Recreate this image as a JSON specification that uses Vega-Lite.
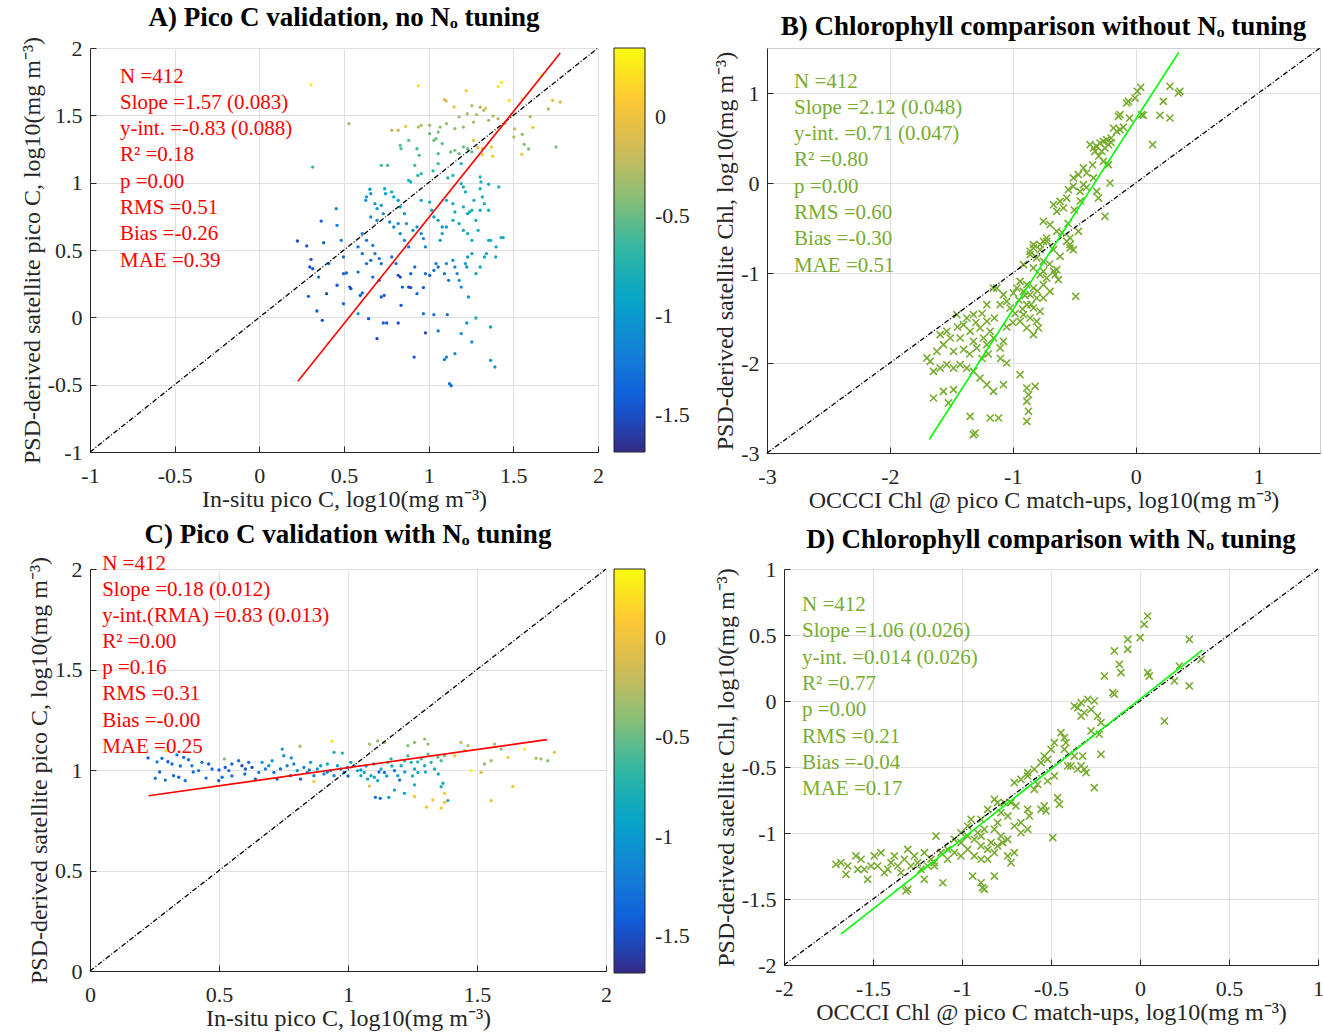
{
"$schema":"https://vega.github.io/schema/vega-lite/v6.json",
"padding":{"top":3,"left":19,"right":0,"bottom":0},
"background":"white",
"resolve":{"scale":{"color":"independent"},"legend":{"color":"independent"}},
"config":{
 "font":"Liberation Serif",
 "view":{"stroke":"#cfcfcf"},
 "axis":{"labelFont":"Liberation Serif","labelFontSize":22,"labelColor":"#262626","titleFont":"Liberation Serif","titleFontSize":24,"titleFontWeight":"normal","titleColor":"#262626","gridColor":"#e0e0e0","domainColor":"#262626","tickColor":"#262626","tickSize":-6,"labelFlush":false,"labelOverlap":false},
 "axisX":{"labelPadding":19,"titlePadding":1},
 "axisY":{"labelPadding":14,"titlePadding":3},
 "title":{"font":"Liberation Serif","fontSize":27,"fontWeight":"bold","color":"black","offset":4},
 "legend":{"gradientVerticalMaxLength":600}
},
"datasets":{
"A":[
{"x":0.305,"y":1.728,"c":0.25},{"x":0.939,"y":1.72,"c":0.2},{"x":1.222,"y":1.683,"c":0.1},{"x":1.411,"y":1.713,"c":0.22},{"x":1.431,"y":1.745,"c":0.25},{"x":1.665,"y":1.797,"c":0.3},
{"x":1.093,"y":1.616,"c":-0.1},{"x":1.103,"y":1.606,"c":-0.12},{"x":1.15,"y":1.562,"c":0.0},{"x":1.255,"y":1.572,"c":-0.25},{"x":1.305,"y":1.56,"c":-0.25},{"x":1.325,"y":1.537,"c":-0.3},{"x":1.337,"y":1.554,"c":0.0},{"x":1.476,"y":1.611,"c":0.2},{"x":1.553,"y":1.621,"c":0.05},{"x":1.732,"y":1.611,"c":-0.05},{"x":1.777,"y":1.599,"c":-0.1},{"x":1.707,"y":1.547,"c":-0.3},{"x":1.752,"y":1.265,"c":-0.45},{"x":1.615,"y":1.411,"c":0.05},{"x":1.6,"y":1.49,"c":-0.3},{"x":1.553,"y":1.359,"c":-0.35},{"x":1.508,"y":1.399,"c":-0.2},{"x":1.503,"y":1.339,"c":-0.3},{"x":1.565,"y":1.285,"c":-0.45},{"x":1.59,"y":1.25,"c":-0.45},{"x":1.55,"y":1.21,"c":0.0},{"x":1.45,"y":1.44,"c":-0.3},{"x":1.41,"y":1.475,"c":-0.25},{"x":1.38,"y":1.495,"c":-0.3},{"x":1.354,"y":1.463,"c":-0.35},{"x":1.283,"y":1.505,"c":-0.3},{"x":1.265,"y":1.45,"c":-0.35},{"x":1.228,"y":1.512,"c":-0.3},{"x":1.18,"y":1.488,"c":-0.35},{"x":1.205,"y":1.413,"c":-0.4},{"x":1.155,"y":1.401,"c":-0.4},{"x":1.105,"y":1.438,"c":-0.35},{"x":1.068,"y":1.413,"c":-0.4},{"x":1.056,"y":1.376,"c":-0.45},{"x":1.006,"y":1.426,"c":-0.35},{"x":0.956,"y":1.426,"c":-0.3},{"x":0.939,"y":1.413,"c":-0.3},{"x":0.864,"y":1.418,"c":0.05},{"x":0.82,"y":1.389,"c":-0.15},{"x":0.782,"y":1.389,"c":-0.2},{"x":0.529,"y":1.438,"c":-0.35},{"x":0.315,"y":1.116,"c":-0.65},
{"x":1.006,"y":1.364,"c":-0.5},{"x":1.043,"y":1.327,"c":-0.5},{"x":1.08,"y":1.29,"c":-0.55},{"x":1.13,"y":1.228,"c":-0.5},{"x":1.155,"y":1.24,"c":-0.45},{"x":1.18,"y":1.215,"c":-0.5},{"x":1.205,"y":1.265,"c":-0.45},{"x":1.23,"y":1.252,"c":-0.5},{"x":1.255,"y":1.228,"c":-0.55},{"x":1.265,"y":1.314,"c":0.0},{"x":1.317,"y":1.252,"c":0.05},{"x":1.317,"y":1.21,"c":0.05},{"x":1.371,"y":1.265,"c":0.05},{"x":1.378,"y":1.196,"c":0.05},{"x":1.29,"y":1.26,"c":-0.05},
{"x":0.931,"y":1.252,"c":-0.6},{"x":0.944,"y":1.203,"c":-0.6},{"x":0.832,"y":1.277,"c":-0.55},{"x":0.837,"y":1.252,"c":-0.55},{"x":0.882,"y":1.314,"c":-0.5},{"x":0.918,"y":1.129,"c":-0.65},{"x":1.056,"y":1.215,"c":-0.6},{"x":1.056,"y":1.141,"c":-0.65},{"x":1.031,"y":1.314,"c":-0.5},{"x":0.956,"y":1.067,"c":-0.7},{"x":0.936,"y":1.054,"c":-0.7},{"x":1.026,"y":1.087,"c":-0.7},{"x":0.894,"y":1.005,"c":-0.75},{"x":0.882,"y":1.017,"c":-0.75},{"x":1.113,"y":1.035,"c":-0.75},{"x":1.143,"y":1.054,"c":-0.7},{"x":0.72,"y":1.129,"c":-0.65},{"x":0.757,"y":1.129,"c":-0.65},{"x":1.192,"y":1.141,"c":-0.7},{"x":1.304,"y":1.042,"c":-0.75},{"x":1.309,"y":1.005,"c":-0.75},{"x":1.354,"y":0.988,"c":-0.8},{"x":1.192,"y":0.993,"c":-0.8},{"x":1.205,"y":0.968,"c":-0.8},{"x":1.217,"y":0.931,"c":-0.8},{"x":1.304,"y":0.955,"c":-0.8},{"x":1.317,"y":0.894,"c":-0.85},{"x":1.414,"y":0.968,"c":-0.8},
{"x":0.653,"y":0.951,"c":-0.95},{"x":0.658,"y":0.918,"c":-1.0},{"x":0.633,"y":0.894,"c":-1.0},{"x":0.628,"y":0.869,"c":-1.05},{"x":0.74,"y":0.955,"c":-0.9},{"x":0.745,"y":0.918,"c":-0.95},{"x":0.782,"y":0.931,"c":-0.9},{"x":0.794,"y":0.894,"c":-0.95},{"x":0.82,"y":0.869,"c":-0.95},{"x":0.832,"y":0.82,"c":-1.0},{"x":0.683,"y":0.844,"c":-1.05},{"x":0.695,"y":0.807,"c":-1.05},{"x":0.72,"y":0.832,"c":-1.05},{"x":0.658,"y":0.745,"c":-1.1},{"x":0.695,"y":0.72,"c":-1.15},{"x":0.732,"y":0.77,"c":-1.1},{"x":0.77,"y":0.708,"c":-1.1},{"x":0.794,"y":0.671,"c":-1.15},{"x":0.82,"y":0.696,"c":-1.1},{"x":0.857,"y":0.77,"c":-1.0},{"x":0.869,"y":0.696,"c":-1.05},{"x":0.907,"y":0.646,"c":-1.1},{"x":0.931,"y":0.671,"c":-1.05},{"x":0.956,"y":0.869,"c":-0.9},{"x":1.006,"y":0.856,"c":-0.85},{"x":1.018,"y":0.795,"c":-0.9},{"x":1.031,"y":0.745,"c":-0.95},{"x":1.056,"y":0.72,"c":-0.95},{"x":1.08,"y":0.671,"c":-1.0},{"x":1.105,"y":0.869,"c":-0.85},{"x":1.143,"y":0.844,"c":-0.85},{"x":1.155,"y":0.782,"c":-0.85},{"x":1.205,"y":0.82,"c":-0.8},{"x":1.23,"y":0.77,"c":-0.85},{"x":1.242,"y":0.782,"c":-0.85},{"x":1.255,"y":0.795,"c":-0.8},{"x":1.267,"y":0.869,"c":-0.8},{"x":1.279,"y":0.72,"c":-0.85},{"x":1.304,"y":0.795,"c":-0.8},{"x":1.329,"y":0.844,"c":-0.8},{"x":1.354,"y":0.795,"c":-0.85},{"x":1.143,"y":0.72,"c":-0.9},{"x":1.18,"y":0.696,"c":-0.9},{"x":1.205,"y":0.646,"c":-0.95},{"x":1.23,"y":0.622,"c":-0.9},{"x":1.105,"y":0.671,"c":-0.95},{"x":1.08,"y":0.622,"c":-1.0},{"x":1.068,"y":0.572,"c":-1.05},{"x":1.255,"y":0.572,"c":-0.9},{"x":1.292,"y":0.646,"c":-0.85},{"x":1.354,"y":0.572,"c":-0.85},{"x":1.428,"y":0.592,"c":-0.85},{"x":0.956,"y":0.622,"c":-1.1},{"x":0.969,"y":0.585,"c":-1.1},{"x":0.981,"y":0.523,"c":-1.15},{"x":0.832,"y":0.622,"c":-1.15},{"x":0.857,"y":0.572,"c":-1.2},{"x":0.882,"y":0.523,"c":-1.2},{"x":0.608,"y":0.622,"c":-1.2},{"x":0.633,"y":0.572,"c":-1.25},{"x":0.67,"y":0.535,"c":-1.25},{"x":0.583,"y":0.523,"c":-1.3},{"x":0.608,"y":0.473,"c":-1.3},{"x":0.484,"y":0.572,"c":-1.2},{"x":0.497,"y":0.448,"c":-1.3},{"x":0.454,"y":0.807,"c":-1.15},{"x":0.459,"y":0.683,"c":-1.2},{"x":0.365,"y":0.715,"c":-1.45},{"x":0.38,"y":0.554,"c":-1.4},{"x":0.225,"y":0.567,"c":-1.5},{"x":0.28,"y":0.53,"c":-1.45},{"x":0.305,"y":0.431,"c":-1.45},{"x":0.298,"y":0.374,"c":-1.5},{"x":0.315,"y":0.361,"c":-1.45},{"x":0.35,"y":0.299,"c":-1.3},{"x":0.41,"y":0.399,"c":-1.35},{"x":0.29,"y":0.156,"c":-1.35},{"x":0.34,"y":0.047,"c":-1.45},{"x":0.372,"y":-0.022,"c":-1.5},{"x":0.397,"y":0.176,"c":-1.5},{"x":0.459,"y":0.238,"c":-1.45},{"x":0.497,"y":0.324,"c":-1.35},{"x":0.514,"y":0.329,"c":-1.35},{"x":0.497,"y":0.101,"c":-1.35},{"x":0.534,"y":0.225,"c":-1.5},{"x":0.541,"y":0.213,"c":-1.5},{"x":0.583,"y":0.336,"c":-1.3},{"x":0.596,"y":0.163,"c":-1.45},{"x":0.608,"y":0.181,"c":-1.4},{"x":0.583,"y":0.027,"c":-0.95},{"x":0.633,"y":0.399,"c":-1.3},{"x":0.658,"y":0.423,"c":-1.35},{"x":0.645,"y":-0.01,"c":-1.45},{"x":0.683,"y":0.473,"c":-1.25},{"x":0.708,"y":0.436,"c":-1.3},{"x":0.72,"y":0.399,"c":-1.35},{"x":0.67,"y":0.299,"c":-1.35},{"x":0.708,"y":0.275,"c":-1.4},{"x":0.72,"y":0.151,"c":-1.45},{"x":0.737,"y":0.163,"c":-1.45},{"x":0.695,"y":-0.158,"c":-1.55},{"x":0.732,"y":-0.042,"c":-1.4},{"x":0.752,"y":-0.042,"c":-1.45},{"x":0.782,"y":0.448,"c":-1.3},{"x":0.807,"y":0.399,"c":-1.35},{"x":0.82,"y":0.312,"c":-1.5},{"x":0.832,"y":0.299,"c":-1.55},{"x":0.845,"y":0.225,"c":-1.4},{"x":0.82,"y":-0.042,"c":-1.5},{"x":0.837,"y":0.089,"c":-1.45},{"x":0.894,"y":0.324,"c":-1.35},{"x":0.918,"y":0.374,"c":-1.3},{"x":0.882,"y":0.225,"c":-1.5},{"x":0.894,"y":0.221,"c":-1.5},{"x":0.931,"y":0.176,"c":-1.4},{"x":0.969,"y":0.221,"c":-1.45},{"x":0.981,"y":0.324,"c":-1.35},{"x":1.006,"y":0.312,"c":-1.45},{"x":1.031,"y":0.349,"c":-1.3},{"x":1.043,"y":0.399,"c":-1.25},{"x":1.056,"y":0.374,"c":-1.3},{"x":0.969,"y":0.027,"c":-1.3},{"x":0.981,"y":-0.116,"c":-1.55},{"x":0.914,"y":-0.295,"c":-1.45},{"x":1.031,"y":0.02,"c":-1.3},{"x":1.056,"y":-0.101,"c":-1.3},{"x":1.093,"y":0.324,"c":-1.2},{"x":1.105,"y":0.399,"c":-1.15},{"x":1.11,"y":0.02,"c":-1.3},{"x":1.118,"y":0.275,"c":-1.2},{"x":1.155,"y":0.374,"c":-1.1},{"x":1.168,"y":0.324,"c":-1.15},{"x":1.143,"y":0.423,"c":-1.1},{"x":1.18,"y":0.275,"c":-1.1},{"x":1.192,"y":0.225,"c":-1.15},{"x":1.23,"y":0.448,"c":-0.95},{"x":1.255,"y":0.473,"c":-0.95},{"x":1.217,"y":0.399,"c":-1.0},{"x":1.225,"y":0.374,"c":-1.05},{"x":1.235,"y":0.151,"c":-1.05},{"x":1.105,"y":-0.295,"c":-1.2},{"x":1.093,"y":-0.314,"c":-1.25},{"x":1.155,"y":-0.27,"c":-1.1},{"x":1.123,"y":-0.493,"c":-1.3},{"x":1.133,"y":-0.508,"c":-1.3},{"x":1.192,"y":-0.121,"c":-1.1},{"x":1.225,"y":-0.042,"c":-1.05},{"x":1.255,"y":-0.183,"c":-1.05},{"x":1.279,"y":-0.005,"c":-0.85},{"x":1.279,"y":0.324,"c":-0.95},{"x":1.304,"y":0.374,"c":-0.9},{"x":1.329,"y":0.448,"c":-0.9},{"x":1.341,"y":0.473,"c":-0.9},{"x":1.366,"y":-0.072,"c":-0.95},{"x":1.366,"y":-0.319,"c":-1.05},{"x":1.391,"y":-0.369,"c":-1.05},{"x":1.396,"y":0.448,"c":-0.85},{"x":1.398,"y":0.523,"c":-0.85},{"x":1.366,"y":0.572,"c":-0.85},{"x":1.44,"y":0.592,"c":-0.85}
],
"A11":[{"x":-1,"y":-1},{"x":2,"y":2}],
"Afit":[{"x":0.228,"y":-0.475},{"x":1.777,"y":1.963}],
"C":[
{"x":0.225,"y":1.06,"c":-1.45},{"x":0.253,"y":0.959,"c":-1.2},{"x":0.279,"y":1.058,"c":-1.35},{"x":0.302,"y":1.041,"c":-1.45},{"x":0.318,"y":1.03,"c":-1.3},{"x":0.292,"y":0.95,"c":-1.3},{"x":0.324,"y":0.972,"c":-1.35},{"x":0.344,"y":0.964,"c":-1.4},{"x":0.369,"y":0.947,"c":-1.3},{"x":0.337,"y":1.075,"c":-1.3},{"x":0.363,"y":1.063,"c":-1.35},{"x":0.382,"y":1.051,"c":-1.3},{"x":0.395,"y":1.021,"c":-1.2},{"x":0.421,"y":0.997,"c":-1.3},{"x":0.434,"y":1.038,"c":-1.3},{"x":0.46,"y":1.03,"c":-1.45},{"x":0.473,"y":1.005,"c":-1.4},{"x":0.499,"y":0.947,"c":-1.45},{"x":0.512,"y":0.964,"c":-1.3},{"x":0.524,"y":1.013,"c":-1.45},{"x":0.538,"y":0.997,"c":-1.3},{"x":0.55,"y":1.03,"c":-1.35},{"x":0.576,"y":1.046,"c":-1.3},{"x":0.589,"y":1.021,"c":-1.55},{"x":0.602,"y":1.005,"c":-1.5},{"x":0.615,"y":1.038,"c":-1.4},{"x":0.628,"y":1.013,"c":-1.5},{"x":0.641,"y":0.955,"c":-1.45},{"x":0.654,"y":0.988,"c":-1.2},{"x":0.667,"y":1.038,"c":-1.0},{"x":0.68,"y":1.005,"c":-1.25},{"x":0.693,"y":1.021,"c":-1.1},{"x":0.706,"y":1.046,"c":-1.0},{"x":0.713,"y":0.988,"c":-1.35},{"x":0.725,"y":0.955,"c":-1.45},{"x":0.738,"y":1.005,"c":-1.3},{"x":0.745,"y":1.104,"c":-1.0},{"x":0.751,"y":1.071,"c":-1.05},{"x":0.764,"y":1.021,"c":-1.2},{"x":0.777,"y":0.972,"c":-1.3},{"x":0.79,"y":1.03,"c":-1.1},{"x":0.803,"y":0.997,"c":-1.15},{"x":0.816,"y":0.955,"c":-1.45},{"x":0.829,"y":1.013,"c":-1.2},{"x":0.842,"y":0.988,"c":-1.1},{"x":0.855,"y":1.038,"c":-1.0},{"x":0.868,"y":0.972,"c":-1.2},{"x":0.881,"y":1.005,"c":-1.0},{"x":0.894,"y":1.021,"c":-1.05},{"x":0.907,"y":0.98,"c":-1.1},{"x":0.92,"y":1.03,"c":-0.9},{"x":0.933,"y":0.997,"c":-1.0},{"x":0.946,"y":0.972,"c":-1.2},{"x":0.959,"y":1.021,"c":-0.95},{"x":0.972,"y":1.005,"c":-1.1},{"x":0.985,"y":0.988,"c":-1.15},{"x":0.946,"y":1.088,"c":-0.8},{"x":0.978,"y":1.084,"c":-0.75},{"x":0.998,"y":1.013,"c":-1.2},{"x":1.011,"y":1.038,"c":-1.0},{"x":1.024,"y":1.021,"c":-0.9},{"x":1.037,"y":0.997,"c":-0.85},{"x":1.05,"y":0.972,"c":-0.9},{"x":1.063,"y":0.988,"c":-0.85},{"x":1.076,"y":0.955,"c":-0.95},{"x":1.089,"y":0.972,"c":-0.85},{"x":1.102,"y":0.964,"c":-0.9},{"x":1.115,"y":0.947,"c":-0.85},{"x":1.128,"y":1.005,"c":-0.8},{"x":1.141,"y":0.988,"c":-1.3},{"x":1.154,"y":1.038,"c":-0.8},{"x":1.167,"y":1.055,"c":-0.75},{"x":1.18,"y":0.997,"c":-1.3},{"x":1.193,"y":0.972,"c":-0.9},{"x":1.206,"y":1.021,"c":-0.85},{"x":1.219,"y":1.046,"c":-0.7},{"x":1.232,"y":1.071,"c":-0.6},{"x":1.245,"y":1.038,"c":-0.75},{"x":1.258,"y":1.005,"c":-0.85},{"x":1.271,"y":0.988,"c":-0.9},{"x":1.284,"y":1.055,"c":-0.6},{"x":1.297,"y":1.021,"c":-0.8},{"x":1.31,"y":1.079,"c":-0.55},{"x":1.322,"y":1.038,"c":-0.7},{"x":1.335,"y":1.005,"c":-0.85},{"x":1.348,"y":1.063,"c":-0.5},{"x":1.361,"y":1.046,"c":-0.6},{"x":1.374,"y":1.071,"c":-0.45},{"x":1.106,"y":0.864,"c":-1.3},{"x":1.125,"y":0.859,"c":-1.35},{"x":1.158,"y":0.864,"c":-1.0},{"x":1.18,"y":0.9,"c":-1.0},{"x":1.219,"y":0.884,"c":-0.9},{"x":1.258,"y":0.868,"c":0.05},{"x":1.304,"y":0.815,"c":0.05},{"x":1.329,"y":0.851,"c":0.0},{"x":1.361,"y":0.811,"c":0.05},{"x":1.374,"y":0.839,"c":0.0},{"x":1.387,"y":0.848,"c":-0.85},{"x":1.361,"y":0.917,"c":-0.8},{"x":1.368,"y":0.934,"c":-0.8},{"x":1.297,"y":1.154,"c":-0.35},{"x":1.31,"y":1.129,"c":-0.4},{"x":1.258,"y":1.137,"c":-0.4},{"x":1.232,"y":1.121,"c":-0.45},{"x":1.141,"y":1.137,"c":-0.3},{"x":1.115,"y":1.145,"c":-0.4},{"x":1.083,"y":1.129,"c":-0.35},{"x":0.938,"y":1.143,"c":0.25},{"x":0.814,"y":1.118,"c":-0.3},{"x":0.521,"y":1.055,"c":-0.45},{"x":0.295,"y":1.096,"c":0.25},{"x":0.868,"y":0.943,"c":0.1},{"x":1.083,"y":0.92,"c":-0.15},{"x":1.438,"y":1.137,"c":-0.2},{"x":1.413,"y":1.071,"c":0.1},{"x":1.452,"y":1.096,"c":-0.3},{"x":1.465,"y":1.121,"c":-0.3},{"x":1.477,"y":0.997,"c":0.3},{"x":1.516,"y":0.988,"c":-0.1},{"x":1.529,"y":1.03,"c":-0.4},{"x":1.555,"y":1.046,"c":-0.25},{"x":1.568,"y":1.129,"c":-0.3},{"x":1.594,"y":1.104,"c":-0.4},{"x":1.555,"y":0.847,"c":-0.05},{"x":1.639,"y":0.918,"c":0.0},{"x":1.62,"y":1.063,"c":0.1},{"x":1.684,"y":1.104,"c":0.25},{"x":1.729,"y":1.059,"c":-0.3},{"x":1.748,"y":1.055,"c":-0.35},{"x":1.774,"y":1.046,"c":-0.4},{"x":1.8,"y":1.088,"c":-0.1},{"x":1.374,"y":0.884,"c":0.05},{"x":1.258,"y":0.926,"c":-0.85},
{"x":0.78,"y":1.06,"c":-1.1},{"x":0.85,"y":1.0,"c":-1.25},{"x":0.92,"y":0.99,"c":-1.3},{"x":1.0,"y":0.97,"c":-1.4},{"x":1.05,"y":1.0,"c":-1.0},{"x":1.1,"y":1.03,"c":-0.9},{"x":1.15,"y":0.97,"c":-0.95},{"x":1.2,"y":0.95,"c":-1.35},{"x":1.25,"y":0.97,"c":-0.85},{"x":1.3,"y":0.99,"c":-0.75},{"x":1.35,"y":0.98,"c":-0.9},{"x":1.12,"y":0.99,"c":-1.35},{"x":1.17,"y":1.02,"c":-0.9},{"x":1.22,"y":0.99,"c":-0.95},{"x":1.27,"y":1.04,"c":-0.7},{"x":1.07,"y":1.02,"c":-0.95},{"x":0.6,"y":0.98,"c":-1.35},{"x":0.55,"y":0.97,"c":-1.3},{"x":0.5,"y":1.0,"c":-1.4},{"x":0.45,"y":0.96,"c":-1.3},{"x":0.4,"y":0.99,"c":-1.35},{"x":0.35,"y":1.02,"c":-1.3},{"x":0.27,"y":0.99,"c":-1.4},{"x":0.26,"y":1.04,"c":-1.25}
],
"C11":[{"x":0,"y":0},{"x":2,"y":2}],
"Cfit":[{"x":0.227,"y":0.872},{"x":1.771,"y":1.151}],
"B":[
{"x":0.041,"y":1.063},{"x":0.014,"y":1.019},{"x":-0.005,"y":0.944},{"x":-0.073,"y":0.889},{"x":-0.059,"y":0.907},{"x":0.279,"y":1.074},{"x":0.347,"y":1.0},{"x":0.36,"y":1.019},{"x":0.225,"y":0.907},{"x":-0.128,"y":0.759},{"x":-0.141,"y":0.741},{"x":0.049,"y":0.759},{"x":0.062,"y":0.752},{"x":0.198,"y":0.752},{"x":0.279,"y":0.722},{"x":0.138,"y":0.426},{"x":-0.181,"y":0.611},{"x":-0.128,"y":0.593},{"x":-0.154,"y":0.574},{"x":-0.371,"y":0.426},{"x":-0.344,"y":0.389},{"x":-0.317,"y":0.407},{"x":-0.29,"y":0.444},{"x":-0.263,"y":0.463},{"x":-0.25,"y":0.389},{"x":-0.236,"y":0.481},{"x":-0.222,"y":0.426},{"x":-0.276,"y":0.352},{"x":-0.331,"y":0.352},{"x":-0.263,"y":0.241},{"x":-0.222,"y":0.204},{"x":-0.425,"y":0.167},{"x":-0.466,"y":0.093},{"x":-0.507,"y":0.056},{"x":-0.398,"y":0.111},{"x":-0.344,"y":0.056},{"x":-0.209,"y":0},{"x":-0.507,"y":-0.037},{"x":-0.453,"y":-0.093},{"x":-0.547,"y":-0.074},{"x":-0.425,"y":-0.019},{"x":-0.317,"y":-0.093},{"x":-0.303,"y":-0.167},{"x":-0.25,"y":-0.37},{"x":-0.615,"y":-0.204},{"x":-0.588,"y":-0.278},{"x":-0.642,"y":-0.315},{"x":-0.561,"y":-0.167},{"x":-0.669,"y":-0.241},{"x":-0.751,"y":-0.426},{"x":-0.697,"y":-0.463},{"x":-0.642,"y":-0.537},{"x":-0.724,"y":-0.611},{"x":-0.534,"y":-0.611},{"x":-0.534,"y":-0.685},{"x":-0.466,"y":-0.537},{"x":-0.507,"y":-0.741},{"x":-0.832,"y":-0.685},{"x":-0.778,"y":-0.741},{"x":-0.859,"y":-0.796},{"x":-0.751,"y":-0.648},
{"x":-0.832,"y":-0.722},{"x":-0.778,"y":-0.685},{"x":-0.724,"y":-0.648},{"x":-0.669,"y":-0.741},{"x":-0.615,"y":-0.815},{"x":-0.561,"y":-0.648},{"x":-0.534,"y":-0.722},{"x":-0.642,"y":-0.963},{"x":-0.656,"y":-1.019},{"x":-0.628,"y":-1.074},{"x":-0.488,"y":-1.259},{"x":-0.94,"y":-1.093},{"x":-0.886,"y":-1.13},{"x":-0.832,"y":-1.167},{"x":-0.913,"y":-1.204},{"x":-0.859,"y":-1.241},{"x":-0.805,"y":-1.278},{"x":-0.967,"y":-1.167},{"x":-0.995,"y":-1.222},{"x":-0.886,"y":-1.352},{"x":-0.832,"y":-1.389},{"x":-0.913,"y":-1.463},{"x":-0.859,"y":-1.5},{"x":-0.805,"y":-1.537},{"x":-0.778,"y":-1.426},{"x":-0.94,"y":-1.537},{"x":-0.886,"y":-1.611},{"x":-0.832,"y":-1.685},{"x":-0.791,"y":-1.611},{"x":-0.751,"y":-1.13},{"x":-0.724,"y":-1.056},{"x":-0.669,"y":-0.981},{"x":-0.697,"y":-1.204},{"x":-0.751,"y":-1.278},{"x":-0.778,"y":-1.019},{"x":-0.94,"y":-2.13},{"x":-0.886,"y":-2.278},{"x":-0.872,"y":-2.352},{"x":-0.886,"y":-2.426},{"x":-0.872,"y":-2.537},{"x":-0.886,"y":-2.648},{"x":-0.818,"y":-2.259},{"x":-1.076,"y":-2.241},{"x":-1.13,"y":-1.167},{"x":-1.076,"y":-1.241},{"x":-1.049,"y":-1.315},{"x":-1.103,"y":-1.352},{"x":-1.022,"y":-1.389},{"x":-1.211,"y":-1.537},{"x":-1.266,"y":-1.611},{"x":-1.184,"y":-1.648},{"x":-1.238,"y":-1.722},{"x":-1.32,"y":-1.759},{"x":-1.293,"y":-1.833},{"x":-1.211,"y":-1.796},{"x":-1.157,"y":-1.722},{"x":-1.103,"y":-1.833},{"x":-1.076,"y":-1.759},{"x":-1.374,"y":-1.5},{"x":-1.401,"y":-1.574},{"x":-1.455,"y":-1.463},{"x":-1.32,"y":-1.463},{"x":-1.347,"y":-1.648},{"x":-1.428,"y":-1.722},{"x":-1.537,"y":-1.648},{"x":-1.591,"y":-1.685},{"x":-1.509,"y":-1.722},{"x":-1.564,"y":-1.796},{"x":-1.482,"y":-1.87},{"x":-1.618,"y":-1.87},{"x":-1.699,"y":-1.944},{"x":-1.672,"y":-1.981},{"x":-1.645,"y":-2.093},{"x":-1.591,"y":-2.056},{"x":-1.537,"y":-2.019},{"x":-1.482,"y":-2.056},{"x":-1.428,"y":-2.019},{"x":-1.374,"y":-2.056},{"x":-1.32,"y":-2.093},{"x":-1.266,"y":-2.167},{"x":-1.211,"y":-2.241},{"x":-1.157,"y":-2.315},{"x":-1.184,"y":-2.611},{"x":-1.116,"y":-2.611},{"x":-1.347,"y":-2.593},{"x":-1.306,"y":-2.778},{"x":-1.32,"y":-2.796},{"x":-1.645,"y":-2.389},{"x":-1.564,"y":-2.315},{"x":-1.482,"y":-2.296},{"x":-1.523,"y":-2.444},{"x":-1.157,"y":-1.167},{"x":-1.211,"y":-1.352},{"x":-0.859,"y":-0.759},{"x":-0.805,"y":-0.833},{"x":-0.751,"y":-0.87},{"x":-0.913,"y":-0.907},{"x":-0.832,"y":-0.944},{"x":-0.751,"y":-0.981},
{"x":-0.95,"y":-1.3},{"x":-0.9,"y":-1.25},{"x":-0.85,"y":-1.35},{"x":-0.8,"y":-1.2},{"x":-0.92,"y":-1.4},{"x":-0.98,"y":-1.45},{"x":-1.0,"y":-1.55},{"x":-1.05,"y":-1.6},{"x":-1.15,"y":-1.5},{"x":-1.25,"y":-1.45},{"x":-1.3,"y":-1.55},{"x":-1.45,"y":-1.6},{"x":-1.4,"y":-1.85},{"x":-1.35,"y":-1.9},{"x":-1.25,"y":-1.95},{"x":-1.2,"y":-1.9},{"x":-1.1,"y":-1.95},{"x":-1.05,"y":-2.0},{"x":-0.7,"y":-0.9},{"x":-0.6,"y":-0.55},{"x":-0.55,"y":-0.45},{"x":-0.5,"y":-0.3},{"x":-0.45,"y":-0.2},{"x":-0.4,"y":-0.05},{"x":-0.35,"y":0.2},{"x":-0.3,"y":0.3},{"x":-0.2,"y":0.5},{"x":-0.1,"y":0.62},{"x":-0.05,"y":0.72},{"x":-0.2,"y":0.45}
],
"B11":[{"x":-3,"y":-3},{"x":1.5,"y":1.5}],
"Bfit":[{"x":-1.68,"y":-2.85},{"x":0.35,"y":1.45}],
"D":[
{"x":0.043,"y":0.644},{"x":0.024,"y":0.581},{"x":0.001,"y":0.48},{"x":-0.069,"y":0.467},{"x":-0.069,"y":0.391},{"x":-0.144,"y":0.379},{"x":0.277,"y":0.467},{"x":-0.116,"y":0.278},{"x":-0.107,"y":0.215},{"x":-0.2,"y":0.189},{"x":0.043,"y":0.215},{"x":0.052,"y":0.189},{"x":0.193,"y":0.152},{"x":0.221,"y":0.265},{"x":0.277,"y":0.114},{"x":0.343,"y":0.316},{"x":0.137,"y":-0.152},{"x":-0.153,"y":0.063},{"x":-0.144,"y":0.051},
{"x":-0.369,"y":-0.038},{"x":-0.331,"y":-0.013},{"x":-0.294,"y":0.013},{"x":-0.257,"y":0},{"x":-0.275,"y":-0.063},{"x":-0.238,"y":-0.114},{"x":-0.331,"y":-0.114},{"x":-0.219,"y":-0.164},{"x":-0.275,"y":-0.227},{"x":-0.229,"y":-0.252},{"x":-0.35,"y":-0.051},{"x":-0.313,"y":-0.089},
{"x":-0.444,"y":-0.24},{"x":-0.425,"y":-0.278},{"x":-0.416,"y":-0.316},{"x":-0.481,"y":-0.316},{"x":-0.5,"y":-0.366},{"x":-0.538,"y":-0.417},{"x":-0.519,"y":-0.442},{"x":-0.556,"y":-0.467},{"x":-0.594,"y":-0.517},{"x":-0.631,"y":-0.543},{"x":-0.425,"y":-0.366},{"x":-0.369,"y":-0.417},{"x":-0.322,"y":-0.417},{"x":-0.331,"y":-0.492},{"x":-0.313,"y":-0.517},{"x":-0.219,"y":-0.404},{"x":-0.388,"y":-0.492},
{"x":-0.257,"y":-0.657},{"x":-0.303,"y":-0.543},{"x":-0.35,"y":-0.517},{"x":-0.406,"y":-0.492},{"x":-0.481,"y":-0.568},{"x":-0.519,"y":-0.606},{"x":-0.463,"y":-0.732},{"x":-0.453,"y":-0.783},{"x":-0.538,"y":-0.795},{"x":-0.556,"y":-0.821},{"x":-0.528,"y":-0.833},{"x":-0.49,"y":-1.035},
{"x":-0.575,"y":-0.631},{"x":-0.594,"y":-0.669},{"x":-0.631,"y":-0.568},{"x":-0.669,"y":-0.593},{"x":-0.706,"y":-0.619},{"x":-0.725,"y":-0.77},{"x":-0.697,"y":-0.795},{"x":-0.631,"y":-0.821},{"x":-0.622,"y":-0.871},{"x":-0.669,"y":-0.922},{"x":-0.631,"y":-0.972},{"x":-0.669,"y":-0.998},{"x":-0.706,"y":-0.947},
{"x":-0.762,"y":-0.77},{"x":-0.781,"y":-0.846},{"x":-0.743,"y":-0.871},{"x":-0.8,"y":-0.922},{"x":-0.818,"y":-0.972},{"x":-0.781,"y":-1.023},{"x":-0.743,"y":-1.048},{"x":-0.856,"y":-0.821},{"x":-0.893,"y":-0.896},{"x":-0.837,"y":-1.073},{"x":-0.893,"y":-1.023},
{"x":-1.043,"y":-1.048},{"x":-1.006,"y":-1.073},{"x":-0.968,"y":-1.023},{"x":-0.931,"y":-1.048},{"x":-0.893,"y":-1.098},{"x":-0.856,"y":-1.124},{"x":-0.818,"y":-1.149},{"x":-0.968,"y":-1.124},{"x":-0.931,"y":-1.174},{"x":-0.893,"y":-1.199},{"x":-1.006,"y":-1.174},{"x":-1.043,"y":-1.149},{"x":-1.081,"y":-1.199},{"x":-0.856,"y":-1.199},{"x":-0.8,"y":-1.098},{"x":-0.772,"y":-1.073},
{"x":-0.893,"y":-1.377},{"x":-0.884,"y":-1.414},{"x":-0.875,"y":-1.427},{"x":-0.94,"y":-1.326},{"x":-0.818,"y":-1.326},{"x":-1.108,"y":-1.377},{"x":-1.155,"y":-1.25},{"x":-1.305,"y":-1.427},{"x":-1.315,"y":-1.439},{"x":-1.212,"y":-1.351},{"x":-1.146,"y":-1.023},
{"x":-1.708,"y":-1.237},{"x":-1.68,"y":-1.225},{"x":-1.652,"y":-1.313},{"x":-1.642,"y":-1.25},{"x":-1.596,"y":-1.174},{"x":-1.567,"y":-1.199},{"x":-1.549,"y":-1.275},{"x":-1.53,"y":-1.351},{"x":-1.493,"y":-1.174},{"x":-1.474,"y":-1.25},{"x":-1.455,"y":-1.149},{"x":-1.436,"y":-1.301},{"x":-1.399,"y":-1.225},{"x":-1.38,"y":-1.174},{"x":-1.361,"y":-1.25},{"x":-1.324,"y":-1.199},{"x":-1.305,"y":-1.124},{"x":-1.268,"y":-1.174},{"x":-1.249,"y":-1.225},{"x":-1.212,"y":-1.149},{"x":-1.193,"y":-1.25},{"x":-1.174,"y":-1.199},
{"x":-1.586,"y":-1.275},{"x":-1.511,"y":-1.25},{"x":-1.417,"y":-1.275},{"x":-1.343,"y":-1.301},{"x":-1.287,"y":-1.25},{"x":-1.23,"y":-1.275},{"x":-1.156,"y":-1.225},{"x":-1.118,"y":-1.149},{"x":-1.081,"y":-1.124},
{"x":-0.8,"y":-0.77},{"x":-0.818,"y":-0.745},{"x":-0.949,"y":-0.896},{"x":-0.968,"y":-0.947},{"x":-1.006,"y":-0.998},{"x":-0.912,"y":-0.998},{"x":-0.875,"y":-0.972},{"x":-0.743,"y":-1.174},{"x":-0.706,"y":-1.149},{"x":-0.725,"y":-1.225}
],
"D11":[{"x":-2,"y":-2},{"x":1,"y":1}],
"Dfit":[{"x":-1.68,"y":-1.767},{"x":0.35,"y":0.385}]
},
"vconcat":[
{"hconcat":[
 {"title":{"text":"A) Pico C validation, no Nₒ tuning"},"width":508,"height":404,
  "layer":[
   {"data":{"name":"A"},"mark":{"type":"circle","size":11,"opacity":1},
    "encoding":{
     "x":{"field":"x","type":"quantitative","scale":{"domain":[-1,2],"nice":false},"axis":{"values":[-1,-0.5,0,0.5,1,1.5,2],"labelExpr":"'' + datum.value","title":"In-situ pico C, log10(mg m⁻³)"}},
     "y":{"field":"y","type":"quantitative","scale":{"domain":[-1,2],"nice":false},"axis":{"values":[-1,-0.5,0,0.5,1,1.5,2],"labelExpr":"'' + datum.value","title":"PSD-derived satellite pico C, log10(mg m⁻³)"}},
     "color":{"field":"c","type":"quantitative","scale":{"domain":[-1.685,0.345],"range":["#352a87","#0f5cdd","#1481d6","#06a4ca","#2eb7a4","#87bf77","#d1bb59","#fec832","#f9fb0e"],"interpolate":"rgb"},
      "legend":{"title":null,"values":[-1.5,-1,-0.5,0],"labelExpr":"'' + datum.value","direction":"vertical","orient":"right","offset":16,"padding":0,"gradientLength":404,"gradientThickness":31,"labelFontSize":22,"labelFont":"Liberation Serif","labelColor":"#262626","labelOffset":10,"gradientStrokeColor":"#262626","gradientStrokeWidth":1}}}},
   {"data":{"name":"A11"},"mark":{"type":"line","color":"black","strokeWidth":1.3,"strokeDash":[5,2,1,2]},"encoding":{"x":{"field":"x","type":"quantitative"},"y":{"field":"y","type":"quantitative"}}},
   {"data":{"name":"Afit"},"mark":{"type":"line","color":"#ff0000","strokeWidth":1.6},"encoding":{"x":{"field":"x","type":"quantitative"},"y":{"field":"y","type":"quantitative"}}},
   {"data":{"values":[{}]},"mark":{"type":"text","align":"left","baseline":"top","fontSize":21,"lineHeight":26.3,"color":"#ff0000","font":"Liberation Serif"},
    "encoding":{"x":{"datum":-0.823},"y":{"datum":1.87},"text":{"value":["N =412","Slope =1.57 (0.083)","y-int. =-0.83 (0.088)","R² =0.18","p =0.00","RMS =0.51","Bias =-0.26","MAE =0.39"]}}}
  ]},
 {"title":{"text":"B) Chlorophyll comparison without Nₒ tuning"},"width":553,"height":405,
  "layer":[
   {"data":{"name":"B"},"mark":{"type":"point","shape":"M-1,-1L1,1M-1,1L1,-1","filled":false,"size":50,"strokeWidth":1.6,"color":"#77ac30","opacity":1},
    "encoding":{
     "x":{"field":"x","type":"quantitative","scale":{"domain":[-3,1.5],"nice":false},"axis":{"values":[-3,-2,-1,0,1],"labelExpr":"'' + datum.value","title":"OCCCI Chl @ pico C match-ups, log10(mg m⁻³)"}},
     "y":{"field":"y","type":"quantitative","scale":{"domain":[-3,1.5],"nice":false},"axis":{"values":[-3,-2,-1,0,1],"labelExpr":"'' + datum.value","title":"PSD-derived satellite Chl, log10(mg m⁻³)"}}}},
   {"data":{"name":"B11"},"mark":{"type":"line","color":"black","strokeWidth":1.3,"strokeDash":[5,2,1,2]},"encoding":{"x":{"field":"x","type":"quantitative"},"y":{"field":"y","type":"quantitative"}}},
   {"data":{"name":"Bfit"},"mark":{"type":"line","color":"#00ff00","strokeWidth":1.6},"encoding":{"x":{"field":"x","type":"quantitative"},"y":{"field":"y","type":"quantitative"}}},
   {"data":{"values":[{}]},"mark":{"type":"text","align":"left","baseline":"top","fontSize":21,"lineHeight":26.3,"color":"#77ac30","font":"Liberation Serif"},
    "encoding":{"x":{"datum":-2.78},"y":{"datum":1.25},"text":{"value":["N =412","Slope =2.12 (0.048)","y-int. =0.71 (0.047)","R² =0.80","p =0.00","RMS =0.60","Bias =-0.30","MAE =0.51"]}}}
  ]}
],"spacing":22,"resolve":{"scale":{"color":"independent"},"legend":{"color":"independent"}}},
{"hconcat":[
 {"title":{"text":"C) Pico C validation with Nₒ tuning"},"width":516,"height":402,
  "layer":[
   {"data":{"name":"C"},"mark":{"type":"circle","size":11,"opacity":1},
    "encoding":{
     "x":{"field":"x","type":"quantitative","scale":{"domain":[0,2],"nice":false},"axis":{"values":[0,0.5,1,1.5,2],"labelExpr":"'' + datum.value","title":"In-situ pico C, log10(mg m⁻³)"}},
     "y":{"field":"y","type":"quantitative","scale":{"domain":[0,2],"nice":false},"axis":{"values":[0,0.5,1,1.5,2],"labelExpr":"'' + datum.value","title":"PSD-derived satellite pico C, log10(mg m⁻³)"}},
     "color":{"field":"c","type":"quantitative","scale":{"domain":[-1.685,0.345],"range":["#352a87","#0f5cdd","#1481d6","#06a4ca","#2eb7a4","#87bf77","#d1bb59","#fec832","#f9fb0e"],"interpolate":"rgb"},
      "legend":{"title":null,"values":[-1.5,-1,-0.5,0],"labelExpr":"'' + datum.value","direction":"vertical","orient":"right","offset":8,"padding":0,"gradientLength":404,"gradientThickness":31,"labelFontSize":22,"labelFont":"Liberation Serif","labelColor":"#262626","labelOffset":10,"gradientStrokeColor":"#262626","gradientStrokeWidth":1}}}},
   {"data":{"name":"C11"},"mark":{"type":"line","color":"black","strokeWidth":1.3,"strokeDash":[5,2,1,2]},"encoding":{"x":{"field":"x","type":"quantitative"},"y":{"field":"y","type":"quantitative"}}},
   {"data":{"name":"Cfit"},"mark":{"type":"line","color":"#ff0000","strokeWidth":1.6},"encoding":{"x":{"field":"x","type":"quantitative"},"y":{"field":"y","type":"quantitative"}}},
   {"data":{"values":[{}]},"mark":{"type":"text","align":"left","baseline":"top","fontSize":21,"lineHeight":26.1,"color":"#ff0000","font":"Liberation Serif"},
    "encoding":{"x":{"datum":0.047},"y":{"datum":2.08},"text":{"value":["N =412","Slope =0.18 (0.012)","y-int.(RMA) =0.83 (0.013)","R² =0.00","p =0.16","RMS =0.31","Bias =-0.00","MAE =0.25"]}}}
  ]},
 {"title":{"text":"D) Chlorophyll comparison with Nₒ tuning"},"width":534,"height":396,
  "layer":[
   {"data":{"name":"D"},"mark":{"type":"point","shape":"M-1,-1L1,1M-1,1L1,-1","filled":false,"size":50,"strokeWidth":1.6,"color":"#77ac30","opacity":1},
    "encoding":{
     "x":{"field":"x","type":"quantitative","scale":{"domain":[-2,1],"nice":false},"axis":{"values":[-2,-1.5,-1,-0.5,0,0.5,1],"labelExpr":"'' + datum.value","title":"OCCCI Chl @ pico C match-ups, log10(mg m⁻³)"}},
     "y":{"field":"y","type":"quantitative","scale":{"domain":[-2,1],"nice":false},"axis":{"values":[-2,-1.5,-1,-0.5,0,0.5,1],"labelExpr":"'' + datum.value","title":"PSD-derived satellite Chl, log10(mg m⁻³)"}}}},
   {"data":{"name":"D11"},"mark":{"type":"line","color":"black","strokeWidth":1.3,"strokeDash":[5,2,1,2]},"encoding":{"x":{"field":"x","type":"quantitative"},"y":{"field":"y","type":"quantitative"}}},
   {"data":{"name":"Dfit"},"mark":{"type":"line","color":"#00ff00","strokeWidth":1.6},"encoding":{"x":{"field":"x","type":"quantitative"},"y":{"field":"y","type":"quantitative"}}},
   {"data":{"values":[{}]},"mark":{"type":"text","align":"left","baseline":"top","fontSize":21,"lineHeight":26.3,"color":"#77ac30","font":"Liberation Serif"},
    "encoding":{"x":{"datum":-1.899},"y":{"datum":0.81},"text":{"value":["N =412","Slope =1.06 (0.026)","y-int. =0.014 (0.026)","R² =0.77","p =0.00","RMS =0.21","Bias =-0.04","MAE =0.17"]}}}
  ]}
],"spacing":22,"resolve":{"scale":{"color":"independent"},"legend":{"color":"independent"}}}
],
"spacing":7
}
